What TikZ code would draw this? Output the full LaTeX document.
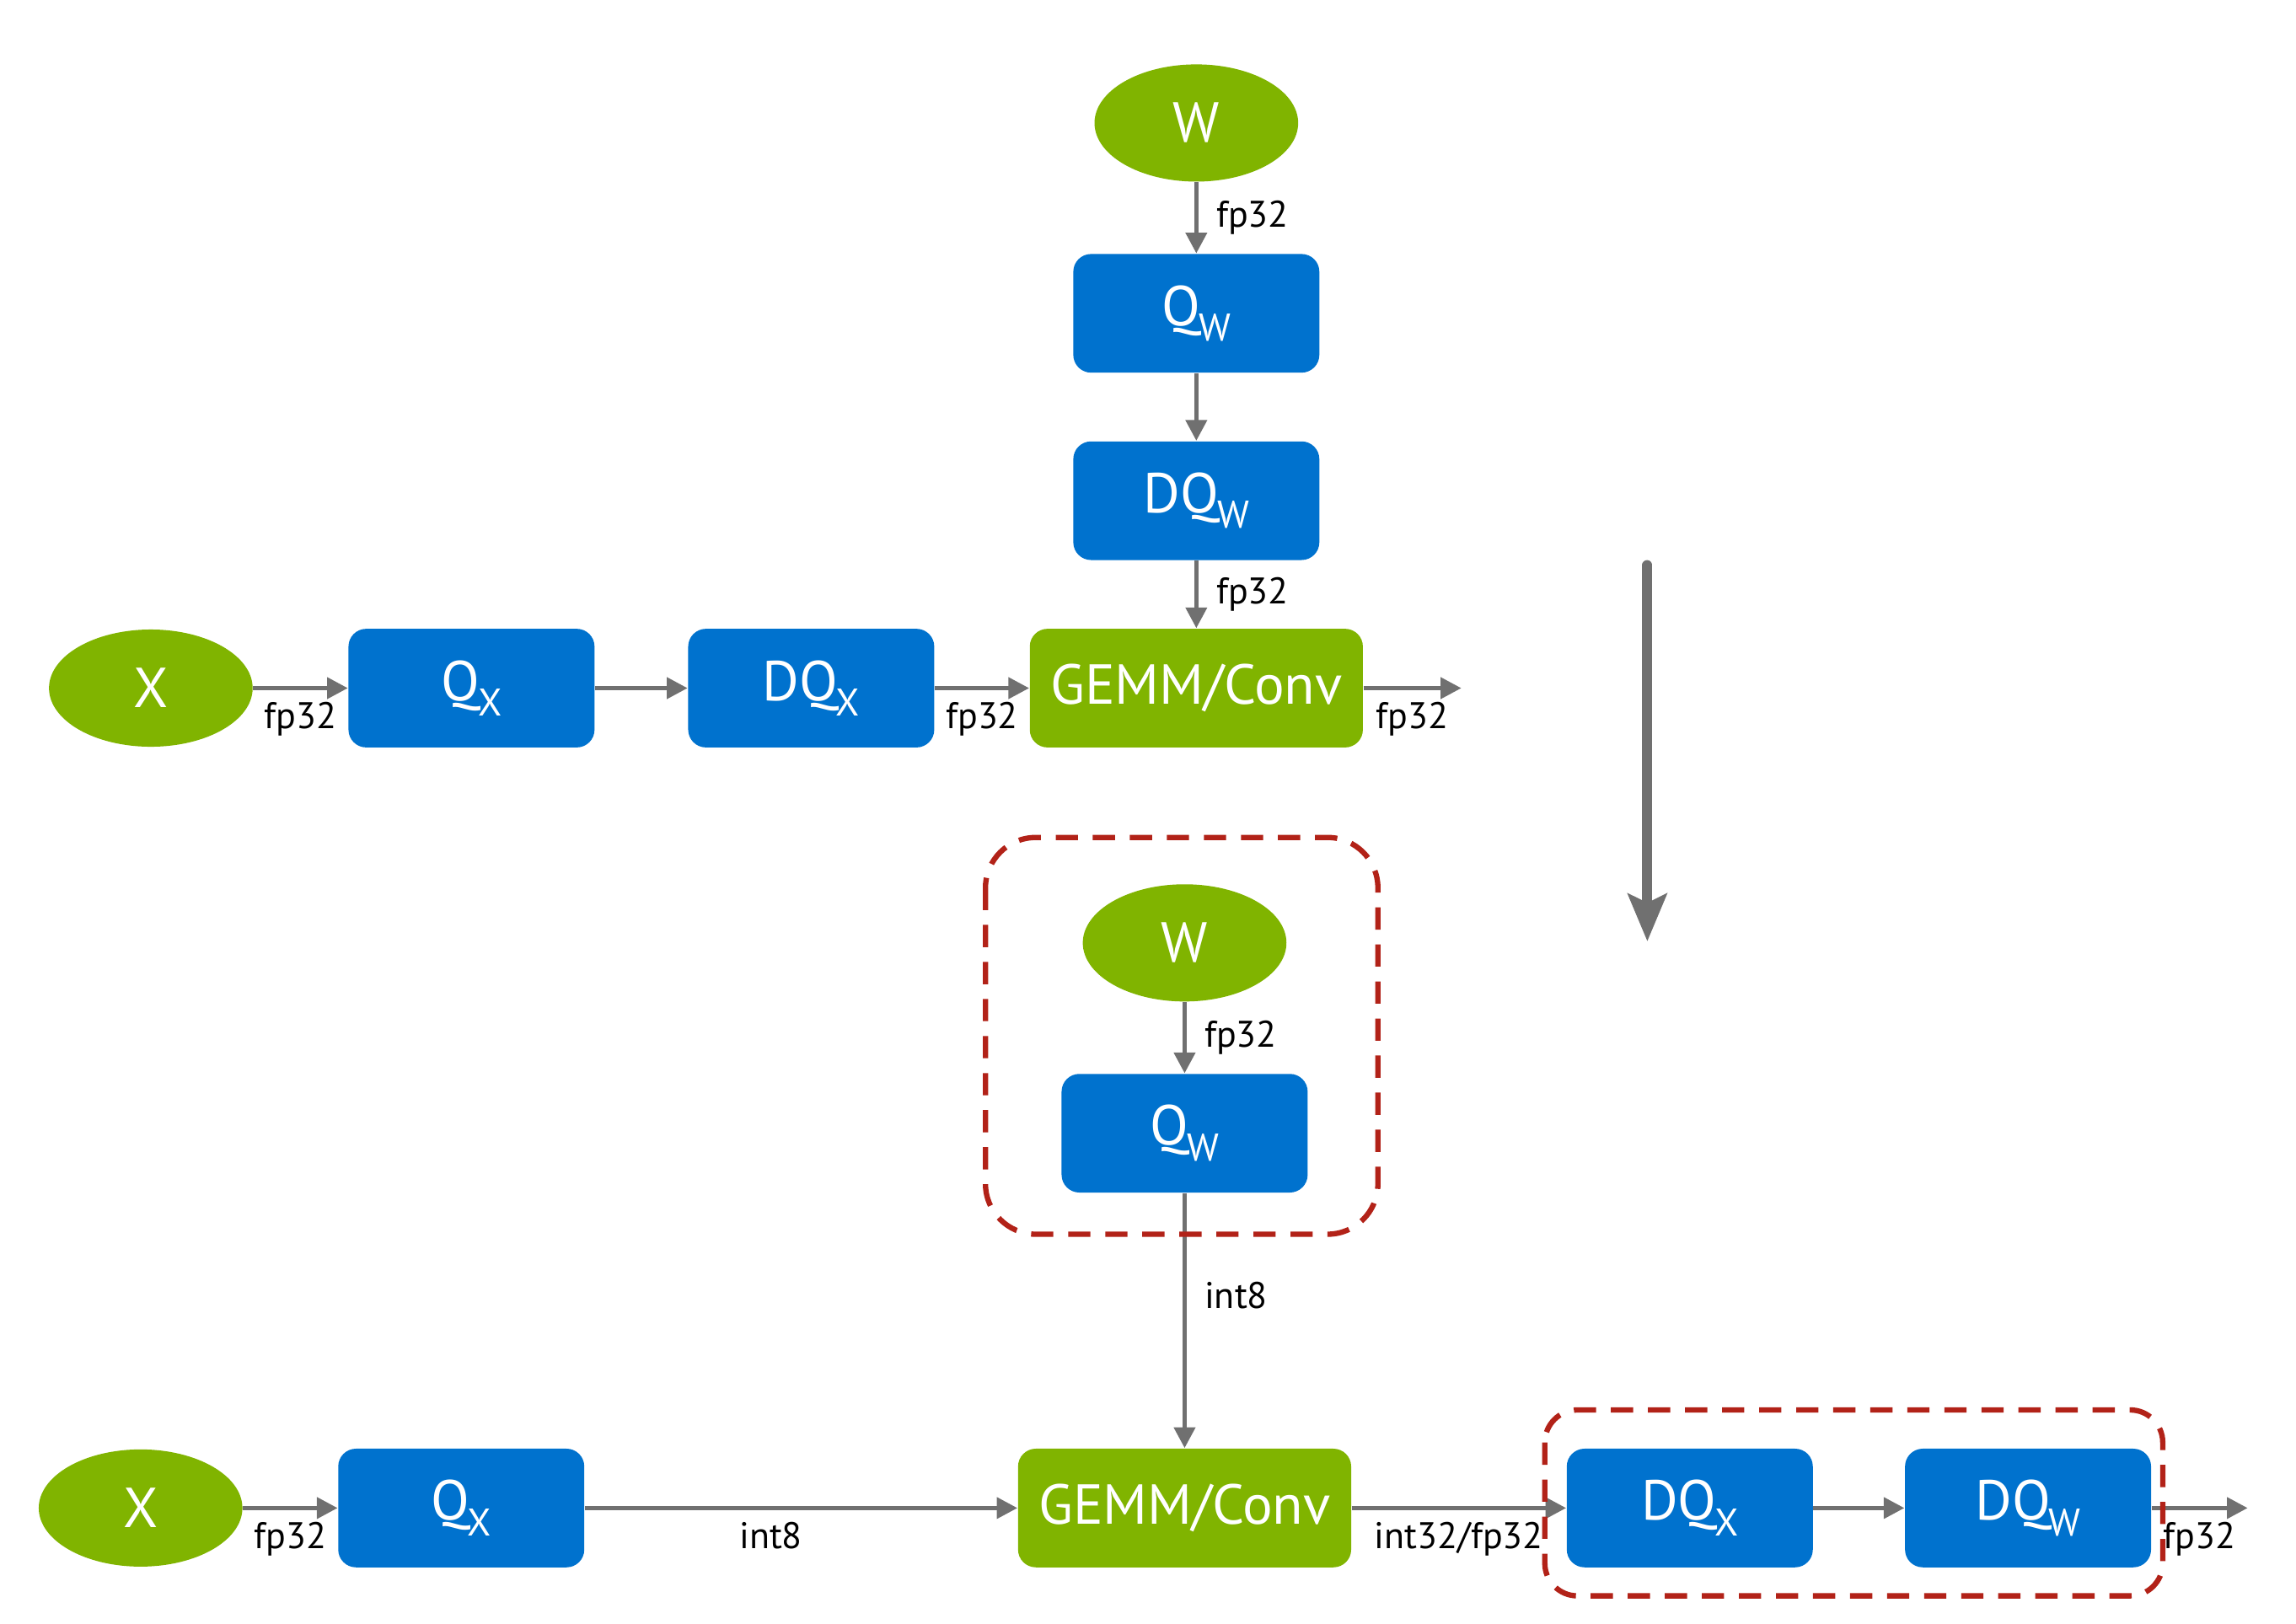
\documentclass[tikz,border=0pt]{standalone}
\usepackage{fontspec}
\setmainfont{PT Sans}
\usetikzlibrary{arrows.meta,shapes.geometric}
\definecolor{nvgreen}{RGB}{128,180,0}
\definecolor{qblue}{RGB}{0,114,206}
\definecolor{agray}{RGB}{112,112,112}
\definecolor{dred}{RGB}{178,34,24}
\newcommand\mysub[1]{\kern-0.6pt\raisebox{-0.55ex}{\fontsize{13}{13}\selectfont #1}}
\begin{document}
\begin{tikzpicture}[x=0.017372cm,y=-0.017372cm,
  op/.style={rectangle, rounded corners=6pt, fill=qblue, text=white,
    minimum width=2.918cm, minimum height=1.407cm, inner sep=0pt,
    font=\fontsize{19}{21}\selectfont},
  gemm/.style={op, fill=nvgreen, minimum width=3.95cm},
  inp/.style={ellipse, fill=nvgreen, text=white, minimum width=2.415cm,
    minimum height=1.39cm, inner sep=0pt, font=\fontsize{19}{21}\selectfont},
  conn/.style={draw=agray, line width=1.5pt, -{Triangle[length=7pt,width=7pt]}},
  lbl/.style={font=\fontsize{12.5}{14}\selectfont, text=black, inner sep=1pt},
  grp/.style={draw=dred, line width=1.8pt, dash pattern=on 7.5pt off 5pt, rounded corners=17pt},
]
\useasboundingbox[fill=white] (0,0) rectangle (1568,1109);

% ---------- top graph ----------
\node[inp] (W1) at (817,84) {W};
\node[op] (Qw1) at (817,214) {Q\mysub{W}};
\node[op] (DQw1) at (817,342) {DQ\mysub{W}};
\node[gemm] (G1) at (817,470) {GEMM/Conv};
\node[inp] (X1) at (103,470) {X};
\node[op] (Qx1) at (322,470) {Q\mysub{X}};
\node[op] (DQx1) at (554,470) {DQ\mysub{X}};
\coordinate (out1) at (998,470);

\draw[conn] (W1) -- node[lbl, right=5pt] {fp32} (Qw1);
\draw[conn] (Qw1) -- (DQw1);
\draw[conn] (DQw1) -- node[lbl, right=5pt] {fp32} (G1);
\draw[conn] (X1) -- node[lbl, below=3pt] {fp32} (Qx1);
\draw[conn] (Qx1) -- (DQx1);
\draw[conn] (DQx1) -- node[lbl, below=3pt] {fp32} (G1);
\draw[conn] (G1) -- node[lbl, below=3pt] {fp32} (out1);

% ---------- transformation arrow ----------
\draw[agray, line width=3.4pt, line cap=round,
  -{Stealth[length=16pt,width=13pt,inset=3pt]}] (1125,386) -- (1125,643);

% ---------- bottom graph ----------
\node[inp] (W2) at (809,644) {W};
\node[op] (Qw2) at (809,774) {Q\mysub{W}};
\node[gemm] (G2) at (809,1030) {GEMM/Conv};
\node[inp] (X2) at (96,1030) {X};
\node[op] (Qx2) at (315,1030) {Q\mysub{X}};
\node[op] (DQx2) at (1154,1030) {DQ\mysub{X}};
\node[op] (DQw2) at (1385,1030) {DQ\mysub{W}};
\coordinate (out2) at (1535,1030);

\draw[conn] (W2) -- node[lbl, right=5pt] {fp32} (Qw2);
\draw[conn] (Qw2) -- node[lbl, right=5pt, pos=0.4] {int8} (G2);
\draw[conn] (X2) -- node[lbl, below=3pt] {fp32} (Qx2);
\draw[conn] (Qx2) -- node[lbl, below=3pt, pos=0.43] {int8} (G2);
\draw[conn] (G2) -- node[lbl, below=3pt] {int32/fp32} (DQx2);
\draw[conn] (DQx2) -- (DQw2);
\draw[conn] (DQw2) -- node[lbl, below=3pt] {fp32} (out2);

% ---------- groupings ----------
\draw[grp] (673,572) rectangle (941,843);
\draw[grp, rounded corners=11pt] (1055,963) rectangle (1477,1090);
\end{tikzpicture}
\end{document}
